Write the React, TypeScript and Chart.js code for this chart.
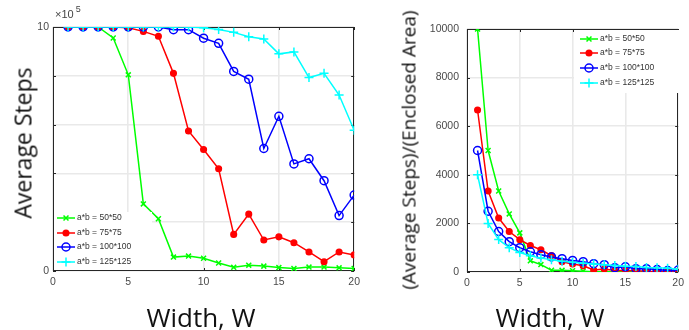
import React, { useEffect, useRef } from "react";
import { Chart, registerables } from "chart.js";
Chart.register(...registerables);

// ---------- data ----------
const widths = [1, 2, 3, 4, 5, 6, 7, 8, 9, 10, 11, 12, 13, 14, 15, 16, 17, 18, 19, 20];
const seriesLabels = ["a*b = 50*50", "a*b = 75*75", "a*b = 100*100", "a*b = 125*125"];

// Average steps (units of 10^5)
const steps50 = [10, 10, 10, 9.55, 8.04, 2.75, 2.14, 0.57, 0.61, 0.52, 0.33, 0.15, 0.24, 0.2, 0.14, 0.1, 0.16, 0.16, 0.13, 0.1];
const steps75 = [10, 10, 10, 10, 9.97, 9.82, 9.62, 8.1, 5.74, 4.98, 4.19, 1.5, 2.33, 1.27, 1.4, 1.16, 0.78, 0.38, 0.78, 0.66];
const steps100 = [10, 10, 10, 10, 10, 10, 10, 9.89, 9.89, 9.54, 9.33, 8.18, 7.86, 5.02, 6.34, 4.39, 4.6, 3.7, 2.27, 3.11];
const steps125 = [10, 10, 10, 10, 10, 10, 10, 10, 10, 9.97, 9.9, 9.78, 9.6, 9.51, 8.9, 8.98, 7.93, 8.1, 7.21, 5.77];

// (Average steps)/(Enclosed area)
const ratio50 = [10000, 5000, 3333, 2390, 1610, 460, 305, 71, 68, 52, 30, 12, 18, 14, 9, 6, 9, 9, 7, 5];
const ratio75 = [6667, 3333, 2222, 1667, 1329, 1091, 916, 675, 425, 332, 254, 83, 119, 60, 62, 48, 31, 14, 27, 22];
const ratio100 = [5000, 2500, 1667, 1250, 1000, 833, 714, 618, 549, 477, 424, 341, 302, 179, 211, 137, 135, 103, 60, 78];
const ratio125 = [4000, 2000, 1333, 1000, 800, 667, 571, 500, 444, 399, 360, 326, 295, 272, 237, 225, 187, 180, 152, 115];

const xTicks = [0, 5, 10, 15, 20];
const leftYTicks = [0, 2, 4, 6, 8, 10];
const leftYTickLabels = ["0", "", "", "", "", "10"];
const rightYTicks = [0, 2000, 4000, 6000, 8000, 10000];

// ---------- styles ----------
const seriesStyles = [
  { color: "#00ff00", pointStyle: "crossRot", radius: 3.5, fill: "#00ff00" },
  { color: "#ff0000", pointStyle: "circle", radius: 2.8, fill: "#ff0000" },
  { color: "#0000ff", pointStyle: "circle", radius: 4, fill: "rgba(0,0,0,0)" },
  { color: "#00ffff", pointStyle: "cross", radius: 4.5, fill: "#00ffff" },
];
const FRAME = "#262626";
const GRID = "#e9e9e9";
const TICK_COLOR = "#4a4a4a";
const tickFont = { family: "'Liberation Sans', Arial, sans-serif", size: 10.5 };

function makeDatasets(series: number[][]) {
  return series.map((vals, i) => {
    const s = seriesStyles[i];
    return {
      label: seriesLabels[i],
      data: widths.map((w, j) => ({ x: w, y: vals[j] })),
      borderColor: s.color,
      backgroundColor: s.fill,
      borderWidth: 1.5,
      pointStyle: s.pointStyle,
      pointRadius: s.radius,
      pointBorderWidth: 1.5,
      pointBorderColor: s.color,
      pointBackgroundColor: s.fill,
      order: 4 - i,
      tension: 0,
    };
  });
}

function drawMarker(ctx: CanvasRenderingContext2D, style: string, x: number, y: number, r: number, color: string, fill: string) {
  ctx.save();
  ctx.strokeStyle = color;
  ctx.fillStyle = fill;
  ctx.lineWidth = 1.5;
  ctx.beginPath();
  if (style === "circle") {
    ctx.arc(x, y, r, 0, Math.PI * 2);
    ctx.fill();
    ctx.stroke();
  } else if (style === "cross") {
    ctx.moveTo(x - r, y);
    ctx.lineTo(x + r, y);
    ctx.moveTo(x, y - r);
    ctx.lineTo(x, y + r);
    ctx.stroke();
  } else {
    const d = r * 0.7071;
    ctx.moveTo(x - d, y - d);
    ctx.lineTo(x + d, y + d);
    ctx.moveTo(x - d, y + d);
    ctx.lineTo(x + d, y - d);
    ctx.stroke();
  }
  ctx.restore();
}

function framePlugin() {
  return {
    id: "frame",
    beforeDatasetsDraw(chart: any) {
      const { ctx, chartArea: a, scales } = chart;
      ctx.save();
      ctx.strokeStyle = FRAME;
      ctx.lineWidth = 1;
      ctx.strokeRect(Math.round(a.left) + 0.5, Math.round(a.top) + 0.5, Math.round(a.right - a.left) - 1, Math.round(a.bottom - a.top) - 1);
      const L = 3;
      ctx.beginPath();
      scales.x.ticks.forEach((t: any) => {
        const px = Math.round(scales.x.getPixelForValue(t.value)) + 0.5;
        ctx.moveTo(px, a.bottom);
        ctx.lineTo(px, a.bottom - L);
        ctx.moveTo(px, a.top);
        ctx.lineTo(px, a.top + L);
      });
      scales.y.ticks.forEach((t: any) => {
        const py = Math.round(scales.y.getPixelForValue(t.value)) + 0.5;
        ctx.moveTo(a.left, py);
        ctx.lineTo(a.left + L, py);
        ctx.moveTo(a.right, py);
        ctx.lineTo(a.right - L, py);
      });
      ctx.stroke();
      ctx.restore();
    },
  };
}

function legendPlugin(box: { x: number; y: number; w: number; h: number }, rowY: number[], lineX0: number, lineX1: number, textX: number) {
  return {
    id: "customLegend",
    afterDatasetsDraw(chart: any) {
      const ctx = chart.ctx as CanvasRenderingContext2D;
      ctx.save();
      ctx.fillStyle = "#ffffff";
      ctx.fillRect(box.x, box.y, box.w, box.h);
      chart.data.datasets.forEach((ds: any, i: number) => {
        const s = seriesStyles[i];
        const y = rowY[i];
        ctx.strokeStyle = s.color;
        ctx.lineWidth = 1.5;
        ctx.beginPath();
        ctx.moveTo(lineX0, y);
        ctx.lineTo(lineX1, y);
        ctx.stroke();
        drawMarker(ctx, s.pointStyle, (lineX0 + lineX1) / 2, y, s.radius, s.color, s.fill);
        ctx.fillStyle = "#333";
        ctx.font = "8.5px 'Liberation Sans', Arial, sans-serif";
        ctx.textBaseline = "middle";
        ctx.textAlign = "left";
        ctx.fillText(ds.label, textX, y);
      });
      ctx.restore();
    },
  };
}

function makeOptions(cfg: { yWidth: number; top: number; right: number; xHeight: number; yMax: number; yTicks: number[]; yLabels: (v: number) => string; yPad: number }) {
  return {
    responsive: false,
    maintainAspectRatio: false,
    animation: false as const,
    layout: { padding: { left: 0, top: cfg.top, right: cfg.right, bottom: 0 } },
    plugins: { legend: { display: false }, tooltip: { enabled: false } },
    scales: {
      x: {
        type: "linear" as const,
        min: 0,
        max: 20,
        afterBuildTicks: (s: any) => {
          s.ticks = xTicks.map((v) => ({ value: v }));
        },
        afterFit: (s: any) => {
          s.height = cfg.xHeight;
        },
        grid: { color: GRID, drawTicks: false, lineWidth: 1.6 },
        border: { display: false },
        ticks: { padding: 5, color: TICK_COLOR, font: tickFont, maxRotation: 0, callback: (v: any) => String(v) },
      },
      y: {
        type: "linear" as const,
        min: 0,
        max: cfg.yMax,
        afterBuildTicks: (s: any) => {
          s.ticks = cfg.yTicks.map((v) => ({ value: v }));
        },
        afterFit: (s: any) => {
          s.width = cfg.yWidth;
        },
        grid: { color: GRID, drawTicks: false, lineWidth: 1.6 },
        border: { display: false },
        ticks: { padding: cfg.yPad, color: TICK_COLOR, font: tickFont, callback: (v: any) => cfg.yLabels(Number(v)) },
      },
    },
  };
}

function useChart(ref: React.RefObject<HTMLCanvasElement | null>, build: () => any) {
  useEffect(() => {
    if (!ref.current) return;
    const chart = new Chart(ref.current, build());
    return () => chart.destroy();
  }, []);
}

const textStyle: React.CSSProperties = {
  position: "absolute",
  fontFamily: "'Open Sans', 'Noto Sans', sans-serif",
  color: "#111",
  whiteSpace: "nowrap",
  lineHeight: 1,
};

export default function App() {
  const leftRef = useRef<HTMLCanvasElement>(null);
  const rightRef = useRef<HTMLCanvasElement>(null);

  useChart(leftRef, () => ({
    type: "line",
    data: { datasets: makeDatasets([steps50, steps75, steps100, steps125]) },
    options: makeOptions({
      yWidth: 53,
      top: 27,
      right: 8,
      xHeight: 59,
      yMax: 10,
      yTicks: leftYTicks,
      yLabels: (v) => leftYTickLabels[leftYTicks.indexOf(v)] ?? "",
      yPad: 4,
    }),
    plugins: [framePlugin(), legendPlugin({ x: 54, y: 212, w: 98, h: 58 }, [218, 233, 247, 262], 57, 75, 77)],
  }));

  useChart(rightRef, () => ({
    type: "line",
    data: { datasets: makeDatasets([ratio50, ratio75, ratio100, ratio125]) },
    options: makeOptions({
      yWidth: 102,
      top: 29,
      right: 9,
      xHeight: 58,
      yMax: 10000,
      yTicks: rightYTicks,
      yLabels: (v) => String(v),
      yPad: 8,
    }),
    plugins: [framePlugin(), legendPlugin({ x: 209, y: 30, w: 105, h: 63 }, [39, 53, 68, 83], 215, 233, 235)],
  }));

  return (
    <div style={{ position: "absolute", left: 0, top: 0, width: 689, height: 330, background: "#fff", overflow: "hidden" }}>
      <canvas ref={leftRef} width={365} height={330} style={{ position: "absolute", left: 0, top: 0, width: 365, height: 330 }} />
      <canvas ref={rightRef} width={324} height={330} style={{ position: "absolute", left: 365, top: 0, width: 324, height: 330 }} />
      <div style={{ ...textStyle, left: 55, top: 9, fontSize: 11, fontFamily: "'Liberation Sans', Arial, sans-serif", color: "#444" }}>
        ×10<sup style={{ fontSize: 9, verticalAlign: "top", position: "relative", top: -4, marginLeft: 2 }}>5</sup>
      </div>
      <div style={{ ...textStyle, left: 23, top: 143, fontSize: 23, transform: "translate(-50%, -50%) rotate(-90deg)" }}>Average Steps</div>
      <div style={{ ...textStyle, left: 409, top: 150, fontSize: 19, transform: "translate(-50%, -50%) rotate(-90deg)" }}>
        (Average Steps)/(Enclosed Area)
      </div>
      <div style={{ ...textStyle, left: 201, top: 317, fontSize: 26, transform: "translate(-50%, -50%)" }}>Width, W</div>
      <div style={{ ...textStyle, left: 550, top: 317, fontSize: 26, transform: "translate(-50%, -50%)" }}>Width, W</div>
    </div>
  );
}
